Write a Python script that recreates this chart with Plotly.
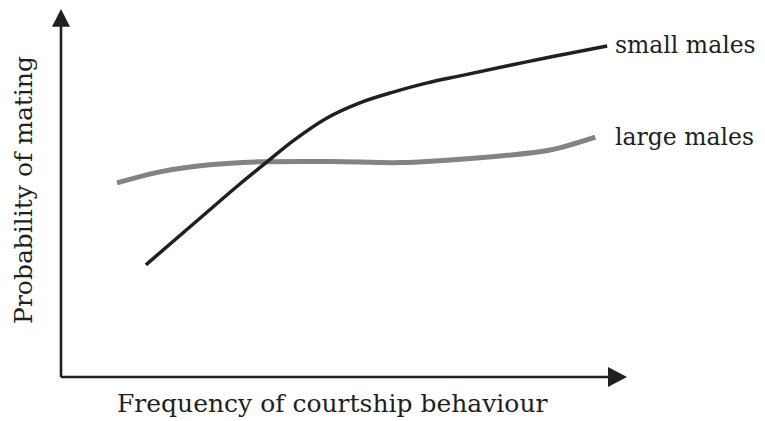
import plotly.graph_objects as go

# curves (x: frequency, y: probability, both 0-100)
small_x = [15.0, 24.6, 31.6, 36.4, 41.0, 47.0, 52.8, 58.7, 64.7, 70.5, 82.9, 96.5]
small_y = [30.4, 43.1, 52.3, 58.3, 64.0, 70.2, 74.3, 77.2, 79.7, 81.6, 85.6, 89.7]

large_x = [9.9, 17.5, 26.3, 35.2, 47.5, 59.9, 68.7, 77.6, 86.4, 94.4]
large_y = [52.6, 55.6, 57.5, 58.3, 58.4, 58.1, 58.8, 59.9, 61.5, 65.0]

series_names = ["small males", "large males"]
x_title = "Frequency of courtship behaviour"
y_title = "Probability of mating"

ink = "#231f20"
serif = "DejaVu Serif"

fig = go.Figure()
fig.add_trace(go.Scatter(x=large_x, y=large_y, mode="lines",
                         line=dict(color="#838386", width=5, shape="spline", smoothing=1.0),
                         cliponaxis=False))
fig.add_trace(go.Scatter(x=small_x, y=small_y, mode="lines",
                         line=dict(color=ink, width=3.5, shape="spline", smoothing=1.0),
                         cliponaxis=False))

# line labels (paper coords, right of the plot area)
fig.add_annotation(x=0.976, y=0.900, xref="paper", yref="paper", text=series_names[0],
                   showarrow=False, xanchor="left", yanchor="middle",
                   font=dict(family=serif, size=23.5, color=ink))
fig.add_annotation(x=0.976, y=0.650, xref="paper", yref="paper", text=series_names[1],
                   showarrow=False, xanchor="left", yanchor="middle",
                   font=dict(family=serif, size=23.5, color=ink))

# axis titles
fig.add_annotation(x=0.4797, y=-0.0705, xref="paper", yref="paper", text=x_title,
                   showarrow=False, xanchor="center", yanchor="middle",
                   font=dict(family=serif, size=25, color=ink))
fig.add_annotation(x=-0.0654, y=0.507, xref="paper", yref="paper", text=y_title,
                   showarrow=False, textangle=-90, xanchor="center", yanchor="middle",
                   font=dict(family=serif, size=25, color=ink))

# axes with arrowheads
fig.add_shape(type="line", xref="paper", yref="paper", x0=0, y0=0, x1=0.97, y1=0,
              line=dict(color=ink, width=2.6))
fig.add_shape(type="line", xref="paper", yref="paper", x0=0, y0=0, x1=0, y1=0.96,
              line=dict(color=ink, width=2.6))
fig.add_shape(type="path", xref="paper", yref="paper",
              path="M 1 0 L 0.9664 0.0271 L 0.9664 -0.0271 Z",
              fillcolor=ink, line=dict(color=ink, width=0))
fig.add_shape(type="path", xref="paper", yref="paper",
              path="M 0 0.997 L 0.0159 0.949 L -0.0159 0.949 Z",
              fillcolor=ink, line=dict(color=ink, width=0))

fig.update_xaxes(range=[0, 100], visible=False, fixedrange=True)
fig.update_yaxes(range=[0, 100], visible=False, fixedrange=True)
# page body keeps its default 8px margin, so the figure is 8px smaller
fig.update_layout(width=757, height=413, margin=dict(l=53, r=138, t=0, b=44),
                  plot_bgcolor="white", paper_bgcolor="white", showlegend=False)

fig.write_html("out.html")
